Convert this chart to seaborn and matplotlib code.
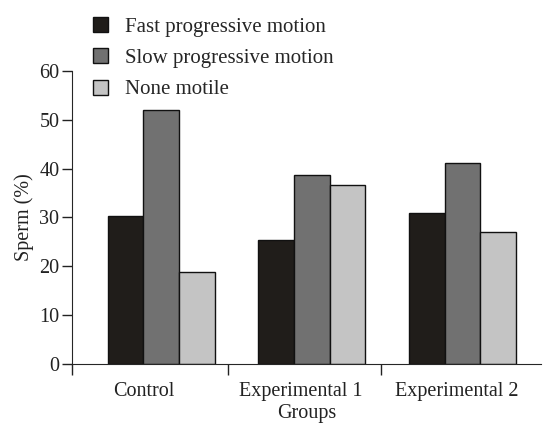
import pandas as pd
import numpy as np
import matplotlib
matplotlib.use("Agg")
import matplotlib.pyplot as plt
import seaborn as sns

# ------------------------------
# Data
# ------------------------------
groups = ["Control", "Experimental 1", "Experimental 2"]
motility = ["Fast progressive motion", "Slow progressive motion", "None motile"]
fast = [30.2, 25.3, 31.0]
slow = [52.0, 38.6, 41.1]
none_motile = [18.8, 36.7, 27.0]
colors = ["#201d1a", "#717171", "#c4c4c4"]

rows = []
for i, g in enumerate(groups):
    for m, vals in zip(motility, [fast, slow, none_motile]):
        rows.append({"Group": g, "Motility": m, "Sperm": vals[i]})
df = pd.DataFrame(rows)

# ------------------------------
# Plot
# ------------------------------
sns.set_style("ticks")
plt.rcParams["font.family"] = ["Liberation Serif", "DejaVu Serif"]
fs = 14.5

fig = plt.figure(figsize=(5.45, 4.25), dpi=100)
ax = fig.add_axes([0.132, 0.1435, 0.86, 0.690])

sns.barplot(data=df, x="Group", y="Sperm", hue="Motility", hue_order=motility,
            palette=colors, width=0.71, edgecolor="#111111", linewidth=1.0,
            saturation=1, ax=ax, legend=True)

ax.set_ylim(0, 60)
ax.set_yticks(range(0, 61, 10))
ax.set_xlim(-0.592, 2.52)
ax.spines["top"].set_visible(False)
ax.spines["right"].set_visible(False)
ax.spines["left"].set_bounds(0, 60)
ax.tick_params(axis="y", direction="out", length=7, width=1, colors="#222222",
               labelsize=fs, labelcolor="#222222", pad=2)

# boundary ticks with no labels, group names placed as minor ticks
ax.set_xticks([-0.592, 0.447, 1.46])
ax.set_xticklabels(["", "", ""])
ax.tick_params(axis="x", which="major", direction="out", length=8, width=1, colors="#222222")
ax.set_xticks([-0.118, 0.93, 1.96], minor=True)
ax.set_xticklabels(groups, minor=True)
ax.tick_params(axis="x", which="minor", length=0, pad=13, labelsize=fs, labelcolor="#222222")

ax.set_xlabel("Groups", fontsize=fs, color="#222222", labelpad=2)
ax.set_ylabel("Sperm (%)", fontsize=fs, color="#222222", labelpad=4)

leg = ax.legend(loc="upper left", bbox_to_anchor=(0.151, 0.985), bbox_transform=fig.transFigure,
                frameon=False, fontsize=15, handlelength=0.75, handleheight=0.75,
                handletextpad=0.8, labelspacing=0.55, borderpad=0)
for h in leg.legend_handles:
    h.set_edgecolor("#111111")
    h.set_linewidth(1.0)

plt.savefig("out.png", dpi=100)
plt.close()
